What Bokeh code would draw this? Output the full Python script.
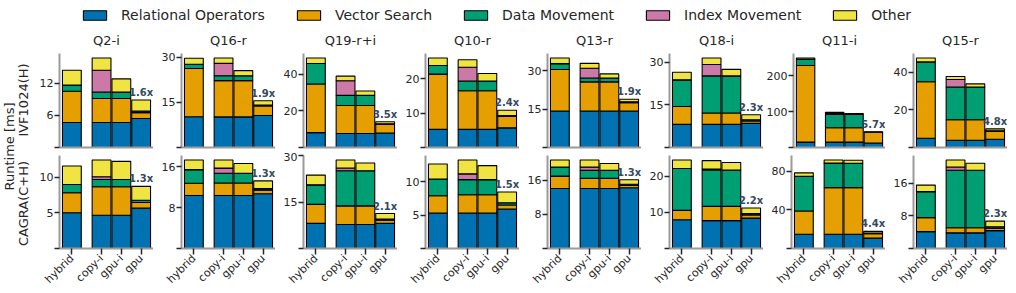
import math

from bokeh.core.properties import value
from bokeh.embed import file_html
from bokeh.layouts import column, row
from bokeh.models import (ColumnDataSource, FixedTicker, Label, LabelSet,
                          Legend, LegendItem, Range1d)
from bokeh.plotting import figure
from bokeh.resources import INLINE

# ---------------------------------------------------------------- data
queries = ["Q2-i", "Q16-r", "Q19-r+i", "Q10-r", "Q13-r", "Q18-i", "Q11-i", "Q15-r"]
variants = ["hybrid", "copy-i", "gpu-i", "gpu"]
variant_pos = [0.0, 1.5, 2.5, 3.5]
index_names = ["IVF1024(H)", "CAGRA(C+H)"]
components = ["Relational Operators", "Vector Search", "Data Movement",
              "Index Movement", "Other"]
colors = ["#0072B2", "#E69F00", "#009E73", "#CC79A7", "#F0E442"]

# y tick step per query panel
ivf_tick_step = [6, 15, 20, 10, 15, 15, 100, 20]
cagra_tick_step = [5, 8, 15, 5, 8, 10, 40, 8]

# runtime breakdown [ms]; one list [hybrid, copy-i, gpu-i, gpu] per query
ivf_relational = [
    [4.65, 4.65, 4.65, 5.4],
    [10.2, 10.15, 10.15, 10.6],
    [8.1, 7.6, 7.6, 7.9],
    [5.25, 5.25, 5.25, 5.7],
    [14.2, 14.2, 14.2, 14.2],
    [8.15, 8.15, 8.15, 8.5],
    [15.0, 15.0, 15.0, 12.5],
    [4.9, 3.9, 3.9, 4.4],
]
ivf_vector = [
    [5.85, 4.5, 4.5, 1.1],
    [16.0, 12.05, 12.05, 3.2],
    [26.5, 15.3, 15.3, 4.6],
    [16.05, 11.25, 11.25, 3.3],
    [16.2, 11.4, 11.4, 3.3],
    [6.25, 4.0, 4.0, 0.8],
    [213.0, 40.0, 40.0, 29.5],
    [30.1, 10.9, 10.9, 4.2],
]
ivf_data_move = [
    [1.15, 1.2, 1.2, 0.3],
    [1.4, 1.6, 1.6, 0.3],
    [11.2, 5.5, 5.5, 0.4],
    [2.5, 2.8, 2.8, 0.25],
    [2.3, 1.5, 1.5, 0.3],
    [9.4, 13.05, 13.05, 0.45],
    [17.0, 37.0, 37.0, 0.5],
    [10.6, 17.4, 17.4, 0.3],
]
ivf_index_move = [
    [0, 4.05, 0, 0],
    [0, 4.1, 0, 0],
    [0, 8.0, 0, 0],
    [0, 4.0, 0, 0],
    [0, 3.8, 0, 0],
    [0, 4.0, 0, 0],
    [0, 3.0, 0, 0],
    [0, 4.0, 0, 0],
]
ivf_other = [
    [2.75, 2.3, 2.45, 2.05],
    [2.0, 1.8, 1.7, 1.4],
    [3.0, 2.5, 2.4, 1.1],
    [2.2, 2.2, 2.2, 1.55],
    [2.2, 1.9, 1.6, 1.0],
    [2.7, 2.3, 2.3, 1.75],
    [4.0, 3.0, 2.5, 1.0],
    [2.1, 1.6, 1.7, 1.0],
]

cagra_relational = [
    [5.0, 4.65, 4.65, 5.65],
    [10.35, 10.35, 10.35, 10.7],
    [8.1, 7.75, 7.75, 8.1],
    [5.3, 5.3, 5.3, 5.9],
    [14.1, 14.1, 14.1, 14.25],
    [8.0, 7.75, 7.75, 8.45],
    [14.8, 14.8, 14.8, 10.8],
    [4.15, 3.85, 3.85, 4.4],
]
cagra_vector = [
    [2.8, 4.0, 4.0, 0.8],
    [2.4, 2.45, 2.45, 0.7],
    [6.15, 6.0, 6.0, 1.0],
    [2.6, 2.75, 2.75, 0.6],
    [2.9, 2.4, 2.4, 0.55],
    [2.6, 3.95, 3.95, 0.85],
    [24.2, 48.4, 48.4, 4.6],
    [3.45, 1.25, 1.25, 0.55],
]
cagra_data_move = [
    [1.15, 1.0, 1.0, 0.3],
    [2.65, 1.9, 1.9, 0.3],
    [6.3, 11.35, 11.35, 0.4],
    [2.5, 2.25, 2.25, 0.35],
    [2.1, 1.85, 1.85, 0.3],
    [11.6, 10.1, 10.1, 0.4],
    [35.9, 25.2, 25.2, 0.7],
    [6.4, 14.15, 14.15, 0.4],
]
cagra_index_move = [
    [0, 0.4, 0, 0],
    [0, 1.0, 0, 0],
    [0, 0.9, 0, 0],
    [0, 0.87, 0, 0],
    [0, 0.75, 0, 0],
    [0, 0.3, 0, 0],
    [0, 0.3, 0, 0],
    [0, 0.8, 0, 0],
]
cagra_other = [
    [2.6, 2.35, 2.55, 1.95],
    [1.9, 1.6, 1.9, 1.5],
    [3.15, 2.6, 2.5, 1.8],
    [2.25, 2.08, 2.1, 1.6],
    [1.7, 1.7, 1.6, 1.05],
    [2.4, 2.3, 2.1, 1.55],
    [3.7, 3.3, 3.3, 1.7],
    [1.6, 1.75, 1.75, 1.4],
]

breakdowns = [
    [ivf_relational, ivf_vector, ivf_data_move, ivf_index_move, ivf_other],
    [cagra_relational, cagra_vector, cagra_data_move, cagra_index_move, cagra_other],
]
tick_steps = [ivf_tick_step, cagra_tick_step]

# ---------------------------------------------------------------- style
FONT = "DejaVu Sans"
TEXT = "#262626"
SPINE = "#9a9a9a"
PANEL_W = 122
LEFT_B = 28
LABEL_W = 31
LEGEND_H = 24
TOP_H = 128
BOT_H = 141
stack_keys = ["rel", "vec", "dmove", "imove", "other"]


def style_axes(p):
    for ax in (p.xaxis[0], p.yaxis[0]):
        ax.axis_line_color = SPINE
        ax.axis_line_width = 2
        ax.major_tick_line_color = TEXT
        ax.major_tick_line_width = 1.5
        ax.major_tick_out = 5
        ax.major_tick_in = 0
        ax.minor_tick_line_color = None
        ax.major_label_text_font = FONT
        ax.major_label_text_font_size = "11px"
        ax.major_label_text_color = TEXT
        ax.major_label_standoff = 1
    p.xgrid.visible = False
    p.ygrid.visible = False
    p.outline_line_color = None


def make_panel(r, q):
    parts = [comp[q] for comp in breakdowns[r]]
    totals = [sum(v) for v in zip(*parts)]
    ymax = max(totals) * 1.05
    top_row = r == 0
    p = figure(
        width=PANEL_W, height=TOP_H if top_row else BOT_H,
        x_range=Range1d(-0.625, 4.125), y_range=Range1d(0, ymax),
        output_backend="svg", toolbar_location=None,
        min_border_left=LEFT_B, min_border_right=0,
        min_border_top=28 if top_row else 3,
        min_border_bottom=5 if top_row else 42,
        title=queries[q] if top_row else None,
    )
    if top_row:
        p.title.text_font = FONT
        p.title.text_font_size = "13px"
        p.title.text_font_style = "normal"
        p.title.text_color = TEXT
        p.title.align = "center"
        p.title.standoff = 12
    src = ColumnDataSource(dict(x=variant_pos, **dict(zip(stack_keys, parts))))
    p.vbar_stack(stack_keys, x="x", width=0.95, source=src,
                 fill_color=colors, line_color="black", line_width=1.1)

    style_axes(p)
    step = tick_steps[r][q]
    p.yaxis.ticker = FixedTicker(ticks=[0, step, 2 * step])
    p.yaxis.major_label_overrides = {0: ""}
    if top_row:
        p.xaxis.ticker = FixedTicker(ticks=[])
    else:
        p.xaxis.ticker = FixedTicker(ticks=variant_pos)
        p.xaxis.major_label_overrides = dict(zip(variant_pos, variants))
        p.xaxis.major_label_orientation = math.pi / 4
        p.xaxis.major_tick_out = 6
        p.xaxis.major_label_standoff = 2

    speedup = ColumnDataSource(dict(
        x=[variant_pos[3]], y=[totals[3]],
        text=[f"{totals[0] / totals[3]:.1f}x"]))
    p.add_layout(LabelSet(
        x="x", y="y", text="text", source=speedup,
        text_align="center", text_baseline="bottom", y_offset=2,
        text_font=value(FONT), text_font_size="10px",
        text_font_style="bold", text_color="#34495e"))
    return p


top_panels = [make_panel(0, q) for q in range(len(queries))]
bottom_panels = [make_panel(1, q) for q in range(len(queries))]

# row labels on the left
label_h = TOP_H + BOT_H
lab = figure(width=LABEL_W, height=label_h, x_range=Range1d(0, LABEL_W),
             y_range=Range1d(label_h, 0), output_backend="svg",
             toolbar_location=None, x_axis_location=None, y_axis_location=None,
             min_border=0, outline_line_color=None)
lab.xgrid.visible = False
lab.ygrid.visible = False
for txt, x, y in [("Runtime [ms]", 9, 146 - LEGEND_H),
                  (index_names[0], 23, 99.5 - LEGEND_H),
                  (index_names[1], 23, 203 - LEGEND_H)]:
    lab.add_layout(Label(x=x, y=y, text=txt, angle=math.pi / 2,
                         text_align="center", text_baseline="middle",
                         text_font=FONT, text_font_size="13px",
                         text_color=TEXT))

# shared legend along the top; its swatch renderers are kept hidden
leg = figure(width=1016, height=LEGEND_H, x_range=Range1d(-1, 5),
             y_range=Range1d(0, 1), output_backend="svg",
             toolbar_location=None, x_axis_location=None, y_axis_location=None,
             min_border=0, outline_line_color=None)
leg.xgrid.visible = False
leg.ygrid.visible = False
leg_src = ColumnDataSource(dict(
    x=variant_pos, **dict(zip(stack_keys, [comp[0] for comp in breakdowns[0]]))))
swatches = leg.vbar_stack(stack_keys, x="x", width=0.95, source=leg_src,
                          fill_color=colors, line_color="black", line_width=1.1)
for rnd in swatches:
    rnd.visible = False
items = [LegendItem(label=name, renderers=[rnd])
         for name, rnd in zip(components, swatches)]
legend = Legend(items=items, orientation="horizontal", location=(80, 1),
                glyph_width=29, glyph_height=12, label_standoff=12, spacing=29,
                padding=0, margin=0, border_line_color=None,
                background_fill_alpha=0, inactive_fill_alpha=0,
                label_text_font=FONT, label_text_font_size="14px",
                label_text_color=TEXT)
leg.add_layout(legend, "center")

layout = column(leg, row(lab, column(row(*top_panels), row(*bottom_panels))))

open("out.html", "w").write(file_html(layout, INLINE))
